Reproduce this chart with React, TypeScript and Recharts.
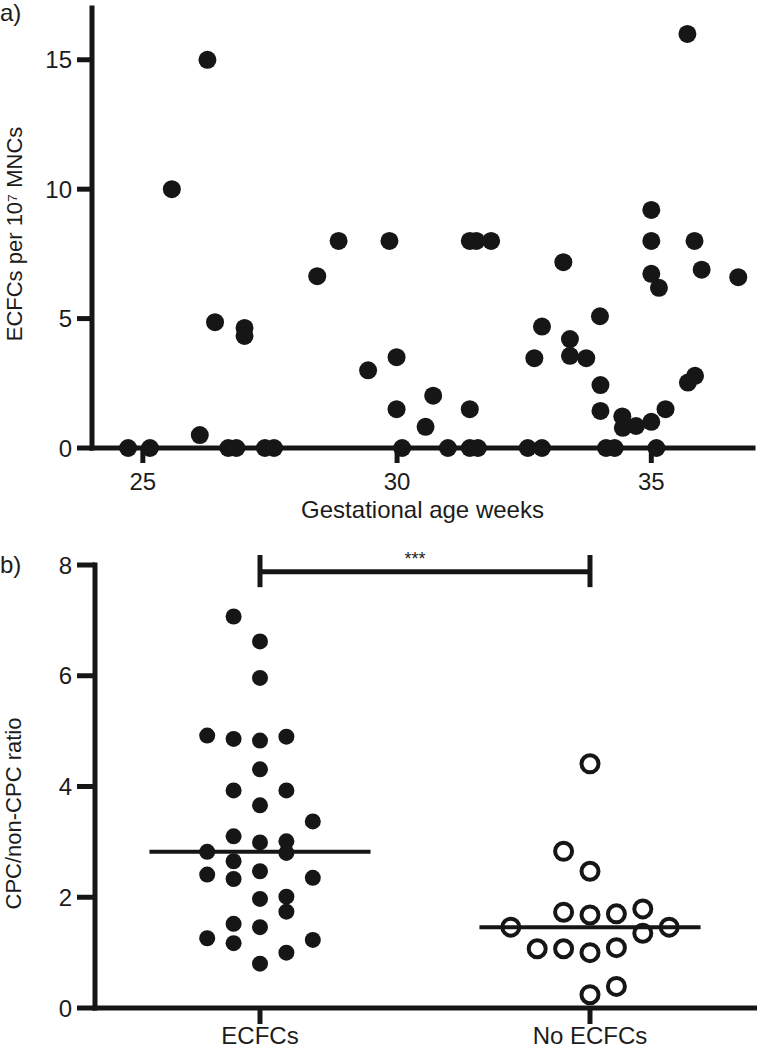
import { ScatterChart, Scatter, XAxis, YAxis, ReferenceLine, Label } from 'recharts';

// a) ECFC counts against gestational age
const gestAgeWeeks = [
  24.71, 25.14, 25.57, 26.12, 26.27, 26.42, 26.68, 26.84, 27.0, 27.0,
  27.4, 27.58, 28.43, 28.85, 29.43, 29.85, 29.99, 29.99, 30.1, 30.56,
  30.71, 31.0, 31.43, 31.56, 31.85, 31.43, 31.43, 31.59, 32.57, 32.7,
  32.85, 32.85, 33.27, 33.4, 33.4, 33.72, 33.99, 34.0, 34.0, 34.11,
  34.28, 34.43, 34.44, 34.7, 35.0, 35.0, 35.0, 35.0, 35.15, 35.1,
  35.28, 35.72, 35.86, 35.71, 35.85, 35.99, 36.71,
];
const ecfcPer10e7 = [
  0, 0, 10, 0.5, 15, 4.86, 0, 0, 4.64, 4.33,
  0, 0, 6.64, 8, 3.0, 8, 3.51, 1.5, 0, 0.82,
  2.02, 0, 8, 8, 8, 1.5, 0, 0, 0, 3.47,
  4.69, 0, 7.18, 4.21, 3.56, 3.47, 5.09, 2.43, 1.43, 0,
  0, 1.22, 0.78, 0.85, 1.01, 9.2, 8, 6.73, 6.19, 0,
  1.5, 2.53, 2.79, 16, 8, 6.89, 6.6,
];
const ageTicks = [25, 30, 35];
const countTicks = [0, 5, 10, 15];

// b) CPC/non-CPC ratio by ECFC outcome
const groups = ['ECFCs', 'No ECFCs'];
const ecfcRatio = [
  7.07, 6.62, 5.96, 4.92, 4.86, 4.83, 4.9, 4.31, 3.93, 3.93,
  3.66, 3.37, 3.1, 2.99, 3.01, 2.82, 2.8, 2.65, 2.41, 2.33,
  2.47, 2.35, 1.97, 2.01, 1.74, 1.52, 1.46, 1.26, 1.17, 1.23,
  1.0, 0.8,
];
const ecfcLane = [
  -1, 0, 0, -2, -1, 0, 1, 0, -1, 1,
  0, 2, -1, 0, 1, -2, 1, -1, -2, -1,
  0, 2, 0, 1, 1, -1, 0, -2, -1, 2,
  1, 0,
];
const noEcfcRatio = [
  4.41, 2.83, 2.47, 1.73, 1.68, 1.7, 1.79, 1.46, 1.35, 1.46,
  1.07, 1.07, 1.0, 1.09, 0.39, 0.24,
];
const noEcfcLane = [0, -1, 0, -1, 0, 1, 2, -3, 2, 3, -2, -1, 0, 1, 1, 0];
const medians = [2.82, 1.46];
const ratioTicks = [0, 2, 4, 6, 8];

const font = '"Liberation Sans", Arial, sans-serif';
const ink = '#161616';
const textInk = '#1c1c1c';
const laneStep = 0.08;

const dataA = gestAgeWeeks.map((x, i) => ({ x, y: ecfcPer10e7[i] }));
const dataEcfc = ecfcRatio.map((y, i) => ({ x: 0.5 + ecfcLane[i] * laneStep, y }));
const dataNoEcfc = noEcfcRatio.map((y, i) => ({ x: 1.5 + noEcfcLane[i] * laneStep, y }));

const axisLine = { stroke: ink, strokeWidth: 5, strokeLinecap: 'square' as const };
const tickLine = { stroke: ink, strokeWidth: 5 };
const tickText = { fill: textInk, fontSize: 24, fontFamily: font };

const filled = (r: number) => (p: any) => <circle cx={p.cx} cy={p.cy} r={r} fill={ink} />;
const hollow = (p: any) => <circle cx={p.cx} cy={p.cy} r={8.5} fill="none" stroke={ink} strokeWidth={4} />;

// rotated y title, centred on the plot height plus a small shift
const sideTitle = (shift: number, x: number, body: string) => ({ viewBox }: any) => {
  const cy = viewBox.y + viewBox.height / 2 + shift;
  return (
    <text x={x} y={cy} transform={`rotate(-90, ${x}, ${cy})`} textAnchor="middle"
      dominantBaseline="central" fontSize={22} fill={textInk} fontFamily={font}>
      {body}
    </text>
  );
};

export default function App() {
  return (
    <div style={{ position: 'absolute', left: 0, top: 0, width: 757, height: 1050, background: '#fff', fontFamily: font }}>
      <div style={{ position: 'absolute', left: 0, top: 1, fontSize: 24, lineHeight: '24px', color: textInk }}>a)</div>
      <div style={{ position: 'absolute', left: 0, top: 553, fontSize: 24, lineHeight: '24px', color: textInk }}>b)</div>

      <div style={{ position: 'absolute', left: 0, top: 0 }}>
        <ScatterChart width={757} height={530} margin={{ top: 8, right: 4, bottom: 0, left: 0 }}>
          <XAxis type="number" dataKey="x" domain={[24, 37]} ticks={ageTicks} height={82}
            tickSize={15} tickMargin={10} axisLine={axisLine} tickLine={tickLine} tick={tickText}>
            <Label content={({ viewBox }: any) => (
              <text x={viewBox.x + viewBox.width / 2} y={viewBox.y + 70} textAnchor="middle"
                fontSize={24} fill={textInk} fontFamily={font}>Gestational age weeks</text>
            )} />
          </XAxis>
          <YAxis type="number" dataKey="y" domain={[0, 17]} ticks={countTicks} width={92}
            tickSize={15} tickMargin={5} axisLine={axisLine} tickLine={tickLine} tick={tickText}>
            <Label content={sideTitle(6, 14, 'ECFCs per 10⁷ MNCs')} />
          </YAxis>
          <Scatter data={dataA} shape={filled(9)} isAnimationActive={false} />
        </ScatterChart>
      </div>

      <div style={{ position: 'absolute', left: 0, top: 530 }}>
        <ScatterChart width={757} height={520} margin={{ top: 35, right: 2, bottom: 0, left: 0 }}>
          <XAxis type="number" dataKey="x" domain={[0, 2]} ticks={[0.5, 1.5]} height={42}
            tickFormatter={(v: number) => groups[Math.round(v - 0.5)]}
            tickSize={16} tickMargin={3} axisLine={axisLine} tickLine={tickLine} tick={tickText} />
          <YAxis type="number" dataKey="y" domain={[0, 8]} ticks={ratioTicks} width={95}
            tickSize={18} tickMargin={5} axisLine={axisLine} tickLine={tickLine} tick={tickText}>
            <Label content={sideTitle(27, 13, 'CPC/non-CPC ratio')} />
          </YAxis>
          <Scatter data={dataEcfc} shape={filled(8)} isAnimationActive={false} />
          <Scatter data={dataNoEcfc} shape={hollow} isAnimationActive={false} />
          {medians.map((m, i) => (
            <ReferenceLine key={groups[i]} segment={[{ x: i + 0.5 - 0.335, y: m }, { x: i + 0.5 + 0.335, y: m }]}
              stroke={ink} strokeWidth={4} ifOverflow="visible" />
          ))}
          <ReferenceLine segment={[{ x: 0.5, y: 7.88 }, { x: 1.5, y: 7.88 }]} stroke={ink} strokeWidth={5} ifOverflow="visible" />
          <ReferenceLine segment={[{ x: 0.5, y: 7.6 }, { x: 0.5, y: 8.18 }]} stroke={ink} strokeWidth={5} ifOverflow="visible" />
          <ReferenceLine segment={[{ x: 1.5, y: 7.6 }, { x: 1.5, y: 8.18 }]} stroke={ink} strokeWidth={5} ifOverflow="visible" />
        </ScatterChart>
      </div>

      <div style={{ position: 'absolute', left: 395, top: 550, width: 40, textAlign: 'center', fontSize: 18, lineHeight: '18px', color: textInk }}>***</div>
    </div>
  );
}
